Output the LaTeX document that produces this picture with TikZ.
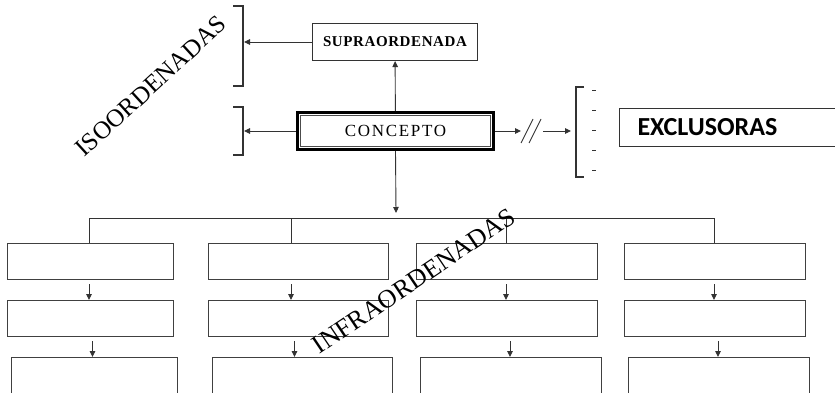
\documentclass[tikz,border=0pt]{standalone}
\usepackage{fontspec}
\setmainfont{Liberation Serif}
\newfontfamily\labelsans{Carlito}
\usetikzlibrary{arrows.meta,calc}

\begin{document}
\begin{tikzpicture}[x=1pt,y=-1pt,
  thin line/.style={draw=black!80,line width=0.9pt},
  arr/.style={thin line,-{Triangle[length=6pt,width=5.5pt]}},
  bracket/.style={draw=black!80,line width=1.1pt},
  cell/.style={draw=black!75,line width=1.1pt,fill=white,inner sep=0pt,
    minimum width=#1,minimum height=36pt,anchor=north west},
  cell/.default=166pt,
  diag/.style={font=\fontsize{#1}{30}\selectfont,inner sep=0pt},
  diag/.default=25
]
\useasboundingbox (0,0) rectangle (835,393);
\clip (0,0) rectangle (835,393);

% central concept with its double frame
\node[draw=black,line width=3pt,minimum width=196pt,minimum height=37pt,inner sep=0pt,
  font=\addfontfeature{LetterSpace=10}\fontsize{17}{20}\selectfont]
  (concepto) at (395.5,131) {CONCEPTO};
\draw[black!70,line width=0.8pt] ($(concepto.north west)+(4.5,4.5)$) rectangle ($(concepto.south east)+(-4.5,-4.5)$);

% superordinate concept
\node[draw=black!80,line width=1.1pt,minimum width=165pt,minimum height=37pt,inner sep=0pt,
  font=\bfseries\addfontfeature{LetterSpace=4}\fontsize{15}{18}\selectfont]
  (supra) at (395,42) {SUPRAORDENADA};

% excluding concepts
\node[draw=black!80,line width=1.1pt,minimum width=221pt,minimum height=38pt,inner xsep=18pt,
  text width=185pt,align=left,anchor=west,font=\labelsans\bfseries\fontsize{26}{28}\selectfont]
  (exclus) at (619,127.5) {EXCLUSORAS};

% brackets
\draw[bracket] (233,6) -- (243,6) -- (243,86) -- (233,86);
\draw[bracket] (233,107) -- (243,107) -- (243,155) -- (233,155);
\draw[bracket] (584,87) -- (576,87) -- (576,177) -- (584,177);
\foreach \yy in {90,110,130,150,170}
  \draw[thin line] (592,\yy) -- (596,\yy);

\coordinate (isoA) at (244,42);
\coordinate (isoB) at (244,131);
\coordinate (exA) at (521,131);
\coordinate (exB) at (543,131);
\coordinate (exC) at (571,131);
\coordinate (down) at (396,213);

\draw[arr] (concepto) -- (supra);
\draw[arr] (supra.west) -- (isoA);
\draw[arr] (concepto.west) -- (isoB);
\draw[arr] (concepto.east) -- (exA);
\draw[thin line] (521,143) -- (533,119);
\draw[thin line] (529,143) -- (541,119);
\draw[arr] (exB) -- (exC);
\draw[arr] (concepto.south) -- (down);

% subordinate columns
\node[cell] (b11) at (7,243) {};
\node[cell] (b12) at (7,300) {};
\node[cell,minimum height=46pt] (b13) at (11,357) {};
\node[cell=180pt] (b21) at (208,243) {};
\node[cell=180pt] (b22) at (208,300) {};
\node[cell=180pt,minimum height=46pt] (b23) at (212,357) {};
\node[cell=181pt] (b31) at (416,243) {};
\node[cell=181pt] (b32) at (416,300) {};
\node[cell=181pt,minimum height=46pt] (b33) at (420,357) {};
\node[cell=181pt] (b41) at (624,243) {};
\node[cell=181pt] (b42) at (624,300) {};
\node[cell=181pt,minimum height=46pt] (b43) at (628,357) {};

\coordinate (d1) at (89,218);
\coordinate (d2) at (291,218);
\coordinate (d3) at (506,218);
\coordinate (d4) at (714,218);
\coordinate (e1) at (92.5,218);
\coordinate (e2) at (294.5,218);
\coordinate (e3) at (510,218);
\coordinate (e4) at (718,218);

\draw[thin line] (d1) -- (d4);
\foreach \c in {1,2,3,4}{
  \draw[thin line] (d\c) -- (d\c |- b\c1.north);
  \draw[arr] ($(d\c |- b\c1.south)+(0,4)$) -- (d\c |- b\c2.north);
  \draw[arr] ($(e\c |- b\c2.south)+(0,4)$) -- (e\c |- b\c3.north);
}

% rotated category labels
\node[diag,rotate=42.5] (iso) at (151,86) {ISOORDENADAS};
\node[diag=26,rotate=34] (infra) at (414,281) {INFRAORDENADAS};
\end{tikzpicture}
\end{document}
